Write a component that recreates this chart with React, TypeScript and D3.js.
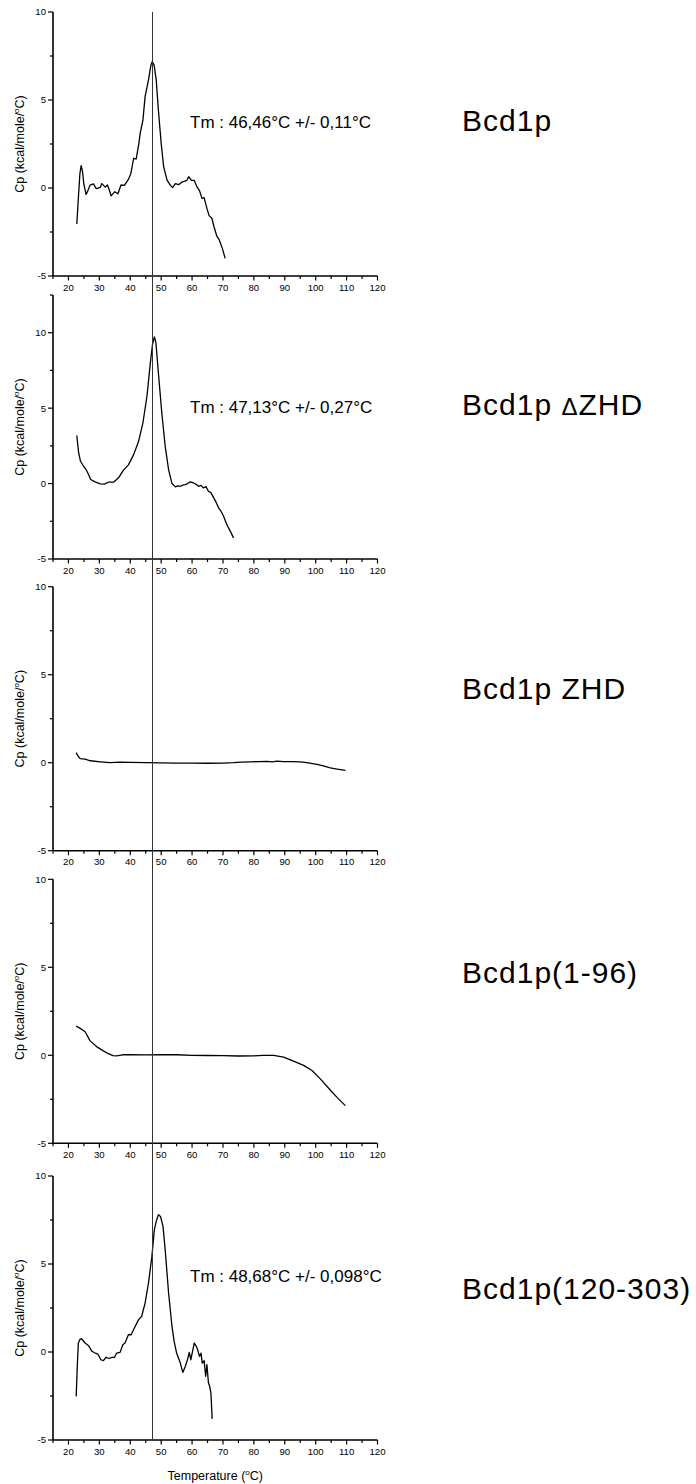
import React from "react";
import * as d3 from "d3";

// ---------- data ----------
const X_TICKS = [20, 30, 40, 50, 60, 70, 80, 90, 100, 110, 120];
const X_MINOR = [15, 25, 35, 45, 55, 65, 75, 85, 95, 105, 115];
const Y_TICKS = [-5, 0, 5, 10];
const Y_MINOR = [-2.5, 2.5, 7.5, 12.5];

const PANEL_NAMES = ["Bcd1p", "Bcd1p \u0394ZHD", "Bcd1p ZHD", "Bcd1p(1-96)", "Bcd1p(120-303)"];
const TM_LABELS = [
  "Tm : 46,46\u00B0C +/- 0,11\u00B0C",
  "Tm : 47,13\u00B0C +/- 0,27\u00B0C",
  "",
  "",
  "Tm : 48,68\u00B0C +/- 0,098\u00B0C",
];
const Y_MAX = [10, 12.5, 10, 10, 10];
const Y_MIN = -5;
const X_DOMAIN: [number, number] = [15, 120];
const TM_LINE = 47.2;

const bcd1p: [number, number][] = [
  [22.7, -2.05], [23.2, -0.6], [23.7, 0.8], [24.1, 1.27], [24.5, 1.0], [25.0, 0.2], [25.7, -0.36],
  [26.3, -0.15], [27.0, 0.17], [28.1, 0.23], [29.0, -0.04], [30.3, 0.04], [30.8, 0.25],
  [31.9, 0.05], [32.6, 0.17], [33.2, -0.1], [33.8, -0.45], [35.0, -0.21], [36.0, -0.33],
  [37.0, 0.17], [38.1, 0.15], [39.4, 0.49], [40.2, 0.83], [41.1, 1.69], [41.9, 1.64],
  [42.8, 2.54], [43.2, 3.1], [44.1, 3.86], [44.8, 5.19], [45.9, 6.14], [46.7, 6.99],
  [47.1, 7.18], [47.7, 7.0], [48.4, 6.14], [49.1, 4.43], [50.0, 2.54], [50.8, 1.21],
  [51.9, 0.45], [53.0, 0.15], [53.7, 0.02], [54.6, 0.25], [55.7, 0.19], [56.7, 0.34],
  [58.3, 0.43], [58.9, 0.64], [59.8, 0.43], [60.7, 0.43], [61.6, 0.06], [62.4, -0.15],
  [63.2, -0.59], [63.9, -0.55], [64.8, -1.16], [65.5, -1.57], [66.4, -1.72], [67.1, -2.2],
  [68.0, -2.73], [68.8, -2.95], [69.8, -3.43], [70.7, -4.0],
];

const bcd1pDZHD: [number, number][] = [
  [22.7, 3.19], [23.3, 2.04], [23.9, 1.48], [24.9, 1.15], [25.7, 0.93], [26.5, 0.6],
  [27.2, 0.27], [28.6, 0.11], [30.3, -0.02], [31.6, -0.04], [32.9, 0.09], [34.6, 0.09],
  [36.2, 0.38], [37.8, 0.89], [39.4, 1.24], [41.1, 1.92], [42.7, 2.81], [44.1, 4.03],
  [45.4, 5.79], [46.5, 8.0], [47.2, 9.22], [47.8, 9.73], [48.3, 9.34], [49.1, 7.35],
  [50.2, 4.69], [51.3, 2.48], [52.4, 0.93], [53.5, 0.0], [54.6, -0.22], [55.4, -0.15],
  [56.2, -0.18], [57.0, -0.1], [57.8, -0.07], [58.6, 0.0], [59.4, 0.11], [60.5, 0.04],
  [61.3, -0.05], [62.1, -0.18], [62.9, -0.12], [63.7, -0.29], [64.5, -0.2], [65.3, -0.51],
  [66.1, -0.6], [67.0, -0.95], [67.8, -1.25], [68.6, -1.61], [69.4, -1.85], [70.2, -2.17],
  [71.0, -2.6], [71.8, -2.94], [72.6, -3.25], [73.4, -3.6],
];

const bcd1pZHD: [number, number][] = [
  [22.5, 0.57], [23.2, 0.35], [23.8, 0.23], [25.4, 0.2], [27.1, 0.11], [30.3, 0.05],
  [33.5, 0.0], [36.8, 0.03], [40.0, 0.02], [45.0, 0.0], [50.0, -0.01], [55.0, -0.02],
  [60.0, -0.02], [65.0, -0.03], [70.0, -0.02], [73.4, 0.0], [76.0, 0.03], [78.8, 0.05],
  [81.5, 0.06], [84.2, 0.08], [86.0, 0.05], [87.5, 0.09], [89.6, 0.06], [92.5, 0.06],
  [95.0, 0.05], [97.1, 0.0], [100.4, -0.1], [102.5, -0.18], [104.7, -0.29], [107.0, -0.37],
  [109.6, -0.44],
];

const bcd1p1to96: [number, number][] = [
  [22.5, 1.66], [23.8, 1.53], [25.4, 1.34], [27.0, 0.82], [29.2, 0.48], [31.3, 0.25],
  [32.9, 0.09], [34.4, -0.02], [35.6, -0.03], [37.5, 0.03], [40.0, 0.03], [45.0, 0.02],
  [50.0, 0.04], [55.0, 0.03], [60.0, 0.0], [65.0, -0.01], [70.0, -0.02], [75.0, -0.04],
  [80.0, -0.03], [83.0, 0.0], [86.4, 0.0], [89.6, -0.1], [92.8, -0.33], [96.1, -0.57],
  [98.8, -0.86], [101.5, -1.34], [104.7, -1.97], [106.9, -2.39], [109.6, -2.86],
];

const bcd1p120to303: [number, number][] = [
  [22.5, -2.52], [22.9, -0.63], [23.2, 0.51], [23.8, 0.74], [24.3, 0.74], [25.4, 0.51],
  [26.5, 0.36], [27.6, 0.04], [28.6, -0.06], [29.5, -0.11], [30.5, -0.44], [31.3, -0.49],
  [32.2, -0.3], [33.0, -0.37], [34.1, -0.3], [34.9, -0.3], [35.6, -0.06], [36.7, -0.02],
  [37.6, 0.41], [38.3, 0.51], [39.4, 0.98], [40.3, 0.98], [41.6, 1.46], [42.7, 1.84],
  [43.7, 2.03], [44.8, 2.78], [45.9, 3.92], [47.0, 5.43], [47.8, 6.95], [48.4, 7.42],
  [49.1, 7.8], [49.8, 7.7], [50.6, 7.14], [51.3, 5.81], [52.4, 3.35], [53.5, 1.46],
  [54.2, 0.6], [55.0, -0.06], [56.2, -0.63], [57.0, -1.16], [57.8, -0.82], [58.5, -0.44],
  [59.1, -0.02], [59.6, -0.44], [60.2, 0.08], [60.7, 0.51], [61.4, 0.32], [61.8, 0.13],
  [62.4, -0.25], [62.9, -0.06], [63.3, -0.63], [63.9, -0.49], [64.4, -1.38], [64.8, -0.72],
  [65.3, -1.76], [65.7, -1.95], [66.1, -2.33], [66.5, -3.8],
];

const SERIES = [bcd1p, bcd1pDZHD, bcd1pZHD, bcd1p1to96, bcd1p120to303];

// ---------- layout ----------
const W = 696;
const H = 1484;
const X0 = 53;
const X1 = 377.5;
const PANEL_TOP = [12, 295, 586.7, 879.3, 1176];
const PANEL_H = 264;
const TM_OFFSET = [115.5, 117.5, 105.5];
const NAME_Y = [131, 415, 699, 983, 1299];
const FONT = "Arial, 'Liberation Sans', Helvetica, sans-serif";

const xScale = d3.scaleLinear().domain(X_DOMAIN).range([X0, X1]);

function NameLabel({ text, y }: { text: string; y: number }) {
  const parts = text.split("\u0394");
  return (
    <text x={462} y={y} fontSize={30} fontFamily={FONT} letterSpacing={1}>
      {parts.length === 1 ? (
        text
      ) : (
        <>
          <tspan>{parts[0]}</tspan>
          <tspan fontSize={24}>{"\u0394"}</tspan>
          <tspan>{parts[1]}</tspan>
        </>
      )}
    </text>
  );
}

function Panel({ i }: { i: number }) {
  const top = PANEL_TOP[i];
  const bottom = top + PANEL_H;
  const y = d3.scaleLinear().domain([Y_MIN, Y_MAX[i]]).range([bottom, top]);
  const line = d3
    .line<[number, number]>()
    .x((d) => xScale(d[0]))
    .y((d) => y(d[1]))
    .curve(d3.curveLinear);
  const minors = Y_MINOR.filter((v) => v <= Y_MAX[i]);
  const tmIdx = i === 0 ? 0 : i === 1 ? 1 : i === 4 ? 2 : -1;
  return (
    <g>
      {/* y axis */}
      <line x1={X0} x2={X0} y1={top} y2={bottom} stroke="#000" strokeWidth={1.6} />
      {Y_TICKS.map((t) => (
        <g key={"yt" + t}>
          <line x1={X0 - 5} x2={X0} y1={y(t)} y2={y(t)} stroke="#000" strokeWidth={1.2} />
          <text x={X0 - 7} y={y(t) + 3.4} textAnchor="end" fontSize={9.6} fontFamily={FONT}>
            {t}
          </text>
        </g>
      ))}
      {minors.map((t) => (
        <line key={"ym" + t} x1={X0 - 3} x2={X0} y1={y(t)} y2={y(t)} stroke="#000" strokeWidth={1.2} />
      ))}
      {/* x axis */}
      <line x1={X0} x2={X1} y1={bottom} y2={bottom} stroke="#000" strokeWidth={1.6} />
      {X_TICKS.map((t) => (
        <g key={"xt" + t}>
          <line x1={xScale(t)} x2={xScale(t)} y1={bottom} y2={bottom + 4.5} stroke="#000" strokeWidth={1.2} />
          <text x={xScale(t)} y={bottom + 14.5} textAnchor="middle" fontSize={9.6} fontFamily={FONT}>
            {t}
          </text>
        </g>
      ))}
      {X_MINOR.map((t) => (
        <line key={"xm" + t} x1={xScale(t)} x2={xScale(t)} y1={bottom} y2={bottom + 3} stroke="#000" strokeWidth={1.2} />
      ))}
      {/* y label */}
      <text
        transform={`translate(24,${(top + bottom) / 2}) rotate(-90)`}
        textAnchor="middle"
        fontSize={12.5}
        fontFamily={FONT}
      >
        <tspan>Cp (kcal/mole/</tspan>
        <tspan fontSize={8} dy={-5}>o</tspan>
        <tspan dy={5}>C)</tspan>
      </text>
      {/* curve */}
      <path d={line(SERIES[i]) || ""} fill="none" stroke="#000" strokeWidth={1.3} strokeLinejoin="round" />
      {/* Tm label */}
      {TM_LABELS[i] && tmIdx >= 0 && (
        <text x={190} y={top + TM_OFFSET[tmIdx]} fontSize={17} fontFamily={FONT}>
          {TM_LABELS[i]}
        </text>
      )}
      {/* name */}
      <NameLabel text={PANEL_NAMES[i]} y={NAME_Y[i]} />
    </g>
  );
}

export default function App() {
  const lastBottom = PANEL_TOP[4] + PANEL_H;
  return (
    <svg
      width={W}
      height={H}
      style={{ position: "absolute", left: 0, top: 0, background: "#fff" }}
    >
      <rect width={W} height={H} fill="#fff" />
      {PANEL_NAMES.map((_, i) => (
        <Panel key={i} i={i} />
      ))}
      <line
        x1={xScale(TM_LINE)}
        x2={xScale(TM_LINE)}
        y1={PANEL_TOP[0]}
        y2={lastBottom}
        stroke="#333"
        strokeWidth={1}
      />
      <text x={(X0 + X1) / 2} y={1480} textAnchor="middle" fontSize={12.5} fontFamily={FONT}>
        <tspan>Temperature (</tspan>
        <tspan fontSize={8} dy={-5}>o</tspan>
        <tspan dy={5}>C)</tspan>
      </text>
    </svg>
  );
}
